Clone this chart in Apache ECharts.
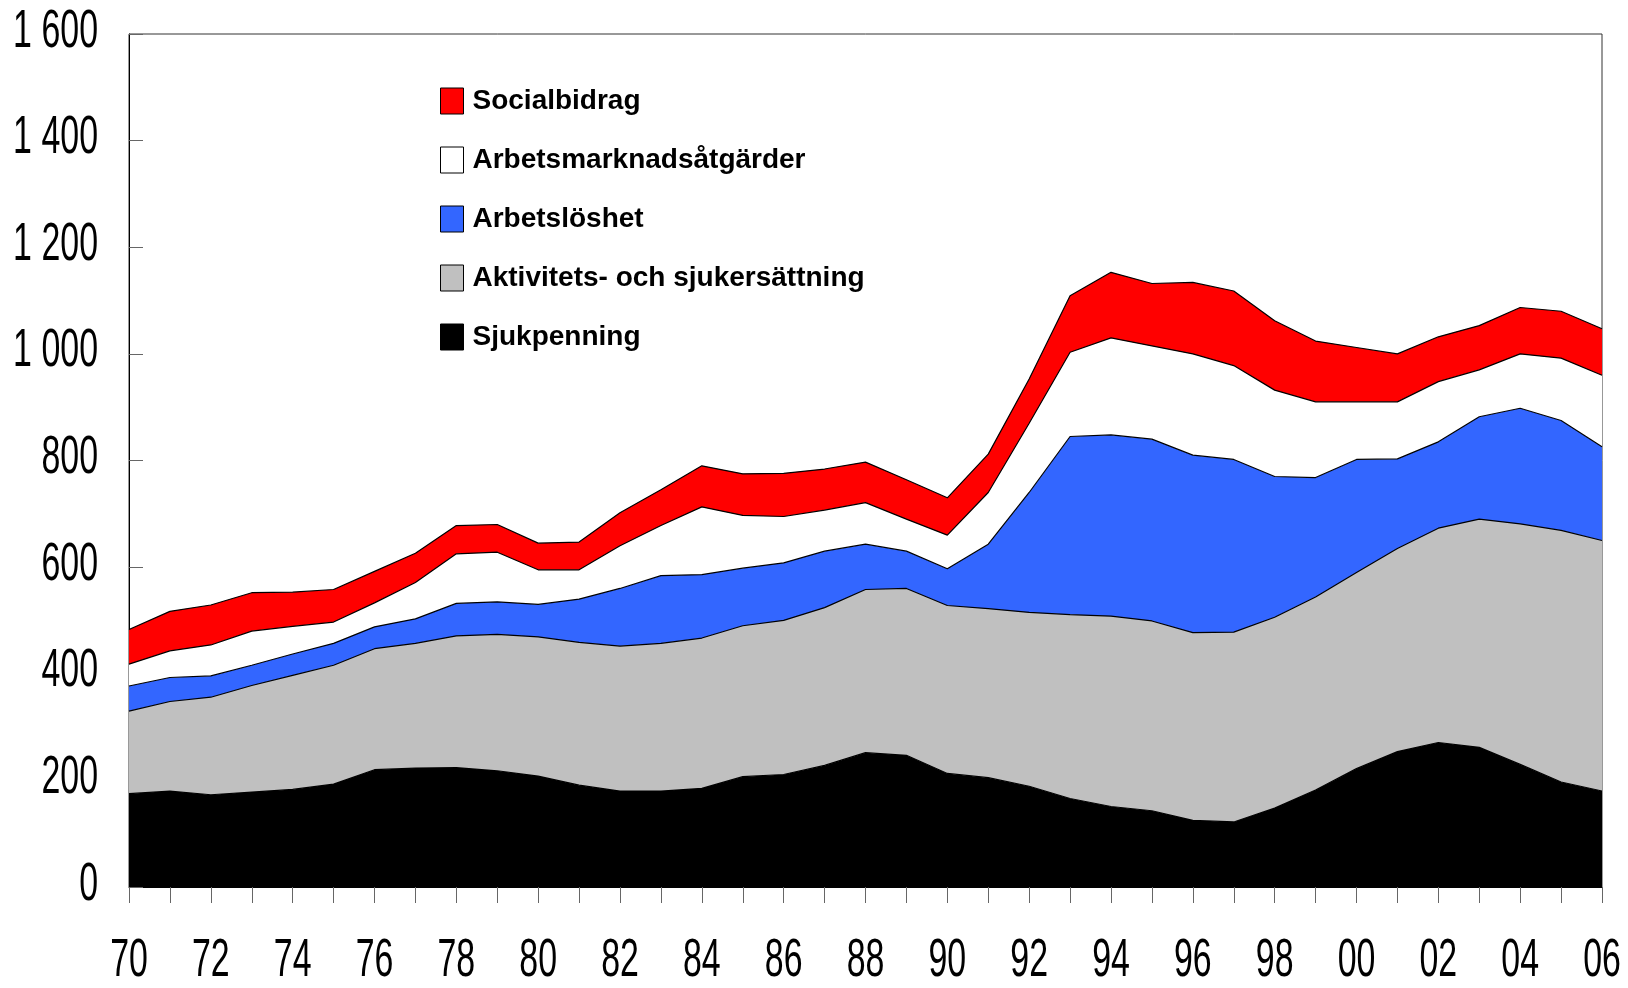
<!DOCTYPE html>
<html>
<head>
<meta charset="utf-8">
<script src="https://cdn.jsdelivr.net/npm/echarts@6/dist/echarts.min.js"></script>
<style>
html,body{margin:0;padding:0;background:#fff;}
#chart{width:1628px;height:988px;}
</style>
</head>
<body>
<div id="chart"></div>
<script>
const years = ['1970','1971','1972','1973','1974','1975','1976','1977','1978','1979','1980','1981','1982','1983','1984','1985','1986','1987','1988','1989','1990','1991','1992','1993','1994','1995','1996','1997','1998','1999','2000','2001','2002','2003','2004','2005','2006'];
const seriesNames = ['Sjukpenning','Aktivitets- och sjukersättning','Arbetslöshet','Arbetsmarknadsåtgärder','Socialbidrag'];
const sjukpenning = [175,180,173,178,183,193,220,223,224,218,208,191,180,180,185,207,211,228,252,247,213,205,189,166,151,143,125,122,148,182,222,254,271,262,230,197,180];
const aktivitets = [155,168,183,200,214,223,227,234,247,256,261,268,272,277,282,283,289,296,306,313,315,317,326,345,357,356,352,356,358,362,368,381,402,428,451,472,470];
const arbetsloshet = [47,45,40,38,40,41,41,46,61,61,61,81,108,127,119,108,108,106,85,70,69,121,225,334,340,341,333,324,264,224,212,168,162,192,217,206,176];
const atgarder = [41,50,58,64,52,40,45,68,93,93,65,55,80,94,127,99,87,77,78,60,63,97,130,158,182,175,190,176,162,142,108,107,113,88,102,117,134];
const socialbidrag = [65,74,75,72,64,61,59,55,53,52,50,52,62,67,77,78,81,77,76,74,70,72,83,106,123,117,134,140,130,114,102,90,84,83,87,88,87];
const yTicks = [0,200,400,600,800,1000,1200,1400,1600];
const yTickLabels = ['0','200','400','600','800','1 000','1 200','1 400','1 600'];
const xTickYears = ['1970','1972','1974','1976','1978','1980','1982','1984','1986','1988','1990','1992','1994','1996','1998','2000','2002','2004','2006'];
const xTickLabels = ['70','72','74','76','78','80','82','84','86','88','90','92','94','96','98','00','02','04','06'];

const colors = ['#000000','#C0C0C0','#3366FF','#FFFFFF','#FF0000'];
const values = [sjukpenning, aktivitets, arbetsloshet, atgarder, socialbidrag];
const FONT = '"Liberation Sans",Arial,sans-serif';

const chart = echarts.init(document.getElementById('chart'));
chart.setOption({
  animation:false,
  backgroundColor:'#fff',
  grid:{left:129,top:34,right:26,bottom:101,show:true,borderColor:'#333',borderWidth:1,backgroundColor:'transparent',outerBoundsMode:'none',containLabel:false},
  legend:{
    orient:'vertical', left:435, top:82,
    data:seriesNames.slice().reverse(),
    itemWidth:23, itemHeight:26, itemGap:31,
    icon:'rect',
    textStyle:{fontFamily:FONT,fontWeight:'bold',fontSize:28,lineHeight:28,color:'#000',padding:[0,0,0,4]},
    itemStyle:{borderColor:'#000',borderWidth:1}
  },
  xAxis:{
    type:'category', data:years, boundaryGap:false,
    axisLine:{lineStyle:{color:'#000',width:1}},
    axisTick:{show:true,interval:0,length:16,inside:false,lineStyle:{color:'#666'}},
    axisLabel:{show:false},
    splitLine:{show:false}
  },
  yAxis:{
    type:'value', min:0, max:1600, interval:200,
    axisLine:{show:true,lineStyle:{color:'#000',width:1}},
    axisTick:{show:true,inside:true,length:14,lineStyle:{color:'#666'}},
    axisLabel:{show:false},
    splitLine:{show:false}
  },
  series: seriesNames.map((n,i)=>({
    name:n, type:'line', stack:'total', data:values[i],
    symbol:'none', smooth:false,
    lineStyle:{color:'#000',width:1.2},
    itemStyle:{color:colors[i],borderColor:'#000'},
    areaStyle:{color:colors[i],opacity:1}
  }))
});

// Condensed tick labels positioned through the axes' own scales
const SX = 0.64, FS = 53;
const labels = [];
yTicks.forEach((v,i)=>{
  const py = chart.convertToPixel({yAxisIndex:0}, v);
  const px = chart.convertToPixel({xAxisIndex:0}, years[0]);
  labels.push({type:'text', x:px-31, y:py-2, scaleX:SX, silent:true,
    style:{text:yTickLabels[i], fontFamily:FONT, fontSize:FS, fill:'#000', align:'right', verticalAlign:'middle'}});
});
xTickYears.forEach((yr,i)=>{
  const px = chart.convertToPixel({xAxisIndex:0}, yr);
  const py = chart.convertToPixel({yAxisIndex:0}, 0);
  labels.push({type:'text', x:px, y:py+74, scaleX:SX, silent:true,
    style:{text:xTickLabels[i], fontFamily:FONT, fontSize:FS, fill:'#000', align:'center', verticalAlign:'middle'}});
});
chart.setOption({graphic:labels});
</script>
</body>
</html>
